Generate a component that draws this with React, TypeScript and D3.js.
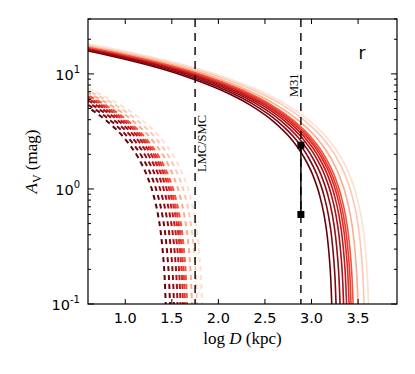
import React from "react";
import * as d3 from "d3";

// Reference curve profile:
// distance (dex) before the curve's cutoff, and A_V there (mag)
const profileDelta = [3.2, 2.8, 2.4, 2.0, 1.6, 1.2, 0.9, 0.65, 0.45, 0.32, 0.22, 0.15, 0.1, 0.065, 0.042, 0.028, 0.018, 0.011, 0.005];
const profileAv = [19.2, 16.8, 14.4, 12.0, 9.6, 7.2, 5.4, 3.9, 2.7, 1.92, 1.32, 0.9, 0.6, 0.39, 0.25, 0.17, 0.108, 0.066, 0.03];

// cutoff log D (kpc) of each curve, darkest -> lightest
const solidCutoffs = [3.234, 3.28, 3.323, 3.361, 3.393, 3.42, 3.441, 3.463, 3.516, 3.581, 3.629];
const dashedCutoffs = [1.451, 1.497, 1.54, 1.578, 1.61, 1.637, 1.658, 1.68, 1.733, 1.787, 1.841];
const curveColors = ["#67000d", "#7d0712", "#950c14", "#ab1016", "#c8171c", "#dc2a25", "#eb3c2d", "#f5533b", "#fcab8f", "#fdc7b0", "#fee0d2"];

const refLines = [1.75, 2.886];
const refLabels = ["LMC/SMC", "M31"];
const m31Points = [2.4, 0.6];

const xTicks = [1.0, 1.5, 2.0, 2.5, 3.0, 3.5];
const yMajor = [0.1, 1, 10];
const yMajorExp = ["-1", "0", "1"];

const W = 415, H = 374;
const L = 88, R = 397, T = 19, B = 304;

export default function App() {
  const x = d3.scaleLinear().domain([0.6, 3.918]).range([L, R]);
  const y = d3.scaleLog().domain([0.1, 30]).range([B, T]);
  const line = d3
    .line<[number, number]>()
    .x((d) => x(d[0]))
    .y((d) => y(d[1]))
    .curve(d3.curveMonotoneX);
  const curvePts = (cut: number) =>
    profileDelta.map((dl, i) => [cut - dl, profileAv[i]] as [number, number]);

  const yMinor: number[] = [];
  [0.1, 1, 10].forEach((dec) => {
    for (let k = 2; k <= 9; k++) {
      const v = dec * k;
      if (v <= 30) yMinor.push(v);
    }
  });

  const tickFont = "DejaVu Sans, sans-serif";
  const serif = "Liberation Serif, Times New Roman, serif";

  return (
    <svg width={W} height={H} style={{ position: "absolute", left: 0, top: 0, background: "#fff" }}>
      <defs>
        <clipPath id="plotclip">
          <rect x={L} y={T} width={R - L} height={B - T} />
        </clipPath>
      </defs>
      <rect x={0} y={0} width={W} height={H} fill="#fff" />
      <g clipPath="url(#plotclip)">
        {dashedCutoffs.map((c, i) => (
          <path key={"d" + i} d={line(curvePts(c)) || ""} fill="none" stroke={curveColors[i]} strokeWidth={2} strokeDasharray="5,4" />
        ))}
        {solidCutoffs.map((c, i) => (
          <path key={"s" + i} d={line(curvePts(c)) || ""} fill="none" stroke={curveColors[i]} strokeWidth={1.6} />
        ))}
        {refLines.map((v, i) => (
          <line key={"r" + i} x1={x(v)} x2={x(v)} y1={T} y2={B} stroke="#000" strokeWidth={1.4} strokeDasharray="8,6" />
        ))}
        <line x1={x(refLines[1])} x2={x(refLines[1])} y1={y(m31Points[0])} y2={y(m31Points[1])} stroke="#000" strokeWidth={1.5} />
        {m31Points.map((v, i) => (
          <rect key={"m" + i} x={x(refLines[1]) - 3.5} y={y(v) - 3.5} width={7} height={7} fill="#000" />
        ))}
      </g>
      {/* reference labels */}
      <text transform={`translate(${x(refLines[0]) + 11},${172}) rotate(-90)`} fontFamily={serif} fontSize={12.5} fill="#000">
        {refLabels[0]}
      </text>
      <text transform={`translate(${x(refLines[1]) - 3},${97}) rotate(-90)`} fontFamily={serif} fontSize={12.5} fill="#000">
        {refLabels[1]}
      </text>
      <text x={362} y={59} fontFamily={tickFont} fontSize={17} textAnchor="middle" fill="#000">r</text>

      {/* ticks */}
      {xTicks.map((t) => (
        <g key={"xt" + t}>
          <line x1={x(t)} x2={x(t)} y1={B} y2={B - 5} stroke="#000" strokeWidth={1} />
          <line x1={x(t)} x2={x(t)} y1={T} y2={T + 5} stroke="#000" strokeWidth={1} />
          <text x={x(t)} y={323} fontFamily={tickFont} fontSize={14.5} textAnchor="middle" fill="#000">
            {t.toFixed(1)}
          </text>
        </g>
      ))}
      {yMajor.map((t, i) => (
        <g key={"yt" + t}>
          <line x1={L} x2={L + 6} y1={y(t)} y2={y(t)} stroke="#000" strokeWidth={1} />
          <line x1={R} x2={R - 6} y1={y(t)} y2={y(t)} stroke="#000" strokeWidth={1} />
          <text x={80} y={y(t) + 6} fontFamily={tickFont} fontSize={14.5} textAnchor="end" fill="#000">
            10
            <tspan fontSize={10} dy={-7}>{yMajorExp[i]}</tspan>
          </text>
        </g>
      ))}
      {yMinor.map((t) => (
        <g key={"ym" + t}>
          <line x1={L} x2={L + 3} y1={y(t)} y2={y(t)} stroke="#000" strokeWidth={1} />
          <line x1={R} x2={R - 3} y1={y(t)} y2={y(t)} stroke="#000" strokeWidth={1} />
        </g>
      ))}
      <rect x={L} y={T} width={R - L} height={B - T} fill="none" stroke="#000" strokeWidth={1.2} />

      {/* axis labels */}
      <text x={(L + R) / 2} y={344} fontFamily={serif} fontSize={17} textAnchor="middle" fill="#000">
        log <tspan fontStyle="italic">D</tspan> (kpc)
      </text>
      <text transform={`translate(37,${(T + B) / 2}) rotate(-90)`} fontFamily={serif} fontSize={17} textAnchor="middle" fill="#000">
        <tspan fontStyle="italic">A</tspan>
        <tspan fontSize={12} dy={4}>V</tspan>
        <tspan dy={-4}> (mag)</tspan>
      </text>
    </svg>
  );
}
